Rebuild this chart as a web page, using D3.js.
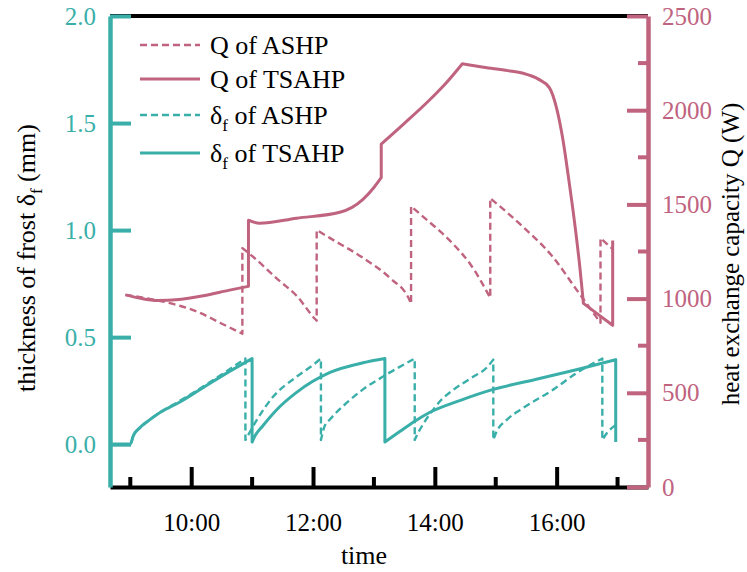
<!DOCTYPE html>
<html>
<head>
<meta charset="utf-8">
<script src="https://cdn.jsdelivr.net/npm/d3@7"></script>
<style>
  body { margin: 0; background: #fff; }
  svg { display: block; }
  svg text { font-family: "Liberation Serif", "Times New Roman", serif; }
</style>
</head>
<body>
<svg id="chart" width="747" height="572"></svg>
<script>
// Time is in decimal hours.
const timeDomain = [8 + 40 / 60, 17.5];
const majorHours = [10, 12, 14, 16];
const minorHours = [9, 11, 13, 15, 17];
const hourLabels = ["10:00", "12:00", "14:00", "16:00"];

const frostDomain = [-0.2, 2.0];
const frostTicks = [0, 0.5, 1.0, 1.5, 2.0];
const qDomain = [0, 2500];
const qMajorTicks = [0, 500, 1000, 1500, 2000, 2500];
const qMinorTicks = [250, 750, 1250, 1750, 2250];

// Heat exchange capacity Q (W). A repeated time starts a new piece:
// with a new value it is a defrost jump, with the same value a corner.
const qAshpTime = [8.92, 9.31, 9.81, 10.14, 10.47, 10.84, 10.84, 10.96, 11.45, 11.73, 12.03, 12.06,
  12.06, 12.28, 12.82, 13.26, 13.59, 13.61, 13.61, 13.76, 14.30, 14.58, 14.91, 14.91, 15.40, 15.95,
  16.34, 16.72, 16.72, 16.92];
const qAshpValue = [1020, 999, 962, 925, 872, 814, 1268, 1237, 1094, 1015, 893, 883,
  1364, 1321, 1216, 1110, 988, 972, 1490, 1448, 1290, 1184, 1004, 1533, 1395, 1216,
  1041, 872, 1321, 1263];

const qTsahpTime = [8.92, 9.15, 9.45, 9.8, 10.2, 10.63, 10.94, 10.94, 11.12, 11.73, 12.44, 12.82,
  13.0, 13.12, 13.12, 13.5, 13.9, 14.2, 14.45, 14.45, 14.8, 15.2, 15.45, 15.7, 15.88, 16.0, 16.1,
  16.2, 16.3, 16.38, 16.44, 16.44, 16.68, 16.92, 16.92];
const qTsahpValue = [1020, 1003, 990, 995, 1015, 1045, 1065, 1416, 1400, 1427, 1458, 1527,
  1590, 1642, 1820, 1930, 2050, 2150, 2246, 2246, 2228, 2210, 2196, 2165, 2120, 2010, 1850,
  1630, 1390, 1170, 975, 975, 916, 858, 1308];

// Frost thickness δf (mm)
const frostAshpTime = [8.667, 9.0, 9.05, 9.15, 9.3, 9.5, 9.8, 10.2, 10.63, 10.89, 10.89, 10.93,
  11.07, 11.34, 11.73, 12.0, 12.13, 12.13, 12.19, 12.28, 12.56, 12.82, 13.15, 13.67, 13.67, 13.72,
  13.8, 13.97, 14.1, 14.30, 14.6, 14.86, 14.96, 14.96, 15.0, 15.19, 15.4, 15.95, 16.34, 16.75,
  16.75, 16.82, 16.97];
const frostAshpValue = [0, 0, 0.04, 0.075, 0.11, 0.15, 0.2, 0.27, 0.35, 0.40, 0.02, 0.04,
  0.11, 0.22, 0.315, 0.37, 0.40, 0.02, 0.084, 0.116, 0.195, 0.256, 0.316, 0.40, 0.02, 0.05,
  0.09, 0.16, 0.205, 0.253, 0.31, 0.36, 0.395, 0.02, 0.05, 0.116, 0.16, 0.256, 0.335, 0.40,
  0.02, 0.05, 0.09];

const frostTsahpTime = [8.667, 9.0, 9.05, 9.15, 9.3, 9.5, 9.8, 10.2, 10.63, 11.0, 11.0, 11.05,
  11.17, 11.4, 11.73, 12.28, 12.82, 13.18, 13.18, 13.43, 13.67, 13.92, 14.42, 14.96, 15.65,
  16.34, 16.97, 16.97];
const frostTsahpValue = [0, 0, 0.04, 0.075, 0.11, 0.15, 0.195, 0.265, 0.34, 0.40, 0.01, 0.04,
  0.084, 0.16, 0.242, 0.335, 0.38, 0.40, 0.01, 0.06, 0.107, 0.149, 0.205, 0.256, 0.302,
  0.349, 0.395, 0.01];

const legendLabels = [
  { main: "Q", sub: "", rest: " of ASHP" },
  { main: "Q", sub: "", rest: " of TSAHP" },
  { main: "δ", sub: "f", rest: " of ASHP" },
  { main: "δ", sub: "f", rest: " of TSAHP" }
];

const PINK = "#c0637f";
const TEAL = "#3aafa9";
const FONT = "Liberation Serif, Times New Roman, serif";

const svg = d3.select("#chart");
const plotLeft = 110, plotRight = 648, plotTop = 16, plotBottom = 487;

const x = d3.scaleLinear().domain(timeDomain).range([plotLeft, plotRight]);
const yF = d3.scaleLinear().domain(frostDomain).range([plotBottom, plotTop]);
const yQ = d3.scaleLinear().domain(qDomain).range([plotBottom, plotTop]);

// Draw a series as smooth pieces joined at repeated times.
function seriesPath(times, values, yScale) {
  const segs = [];
  let cur = [];
  times.forEach((t, i) => {
    if (i > 0 && t === times[i - 1]) { segs.push(cur); cur = []; }
    cur.push([t, values[i]]);
  });
  segs.push(cur);
  const line = d3.line().x(d => x(d[0])).y(d => yScale(d[1])).curve(d3.curveMonotoneX);
  return segs.map((s, i) => {
    const p = s.length > 1 ? line(s) : `M${x(s[0][0])},${yScale(s[0][1])}`;
    return i === 0 ? p : "L" + p.slice(1);
  }).join("");
}

const series = [
  { t: qAshpTime, v: qAshpValue, y: yQ, color: PINK, dash: "7,4", w: 2.4 },
  { t: qTsahpTime, v: qTsahpValue, y: yQ, color: PINK, dash: null, w: 3 },
  { t: frostAshpTime, v: frostAshpValue, y: yF, color: TEAL, dash: "7,4", w: 2.4 },
  { t: frostTsahpTime, v: frostTsahpValue, y: yF, color: TEAL, dash: null, w: 3 }
];

svg.append("g").selectAll("path").data(series).join("path")
  .attr("d", s => seriesPath(s.t, s.v, s.y))
  .attr("fill", "none")
  .attr("stroke", s => s.color)
  .attr("stroke-width", s => s.w)
  .attr("stroke-dasharray", s => s.dash)
  .attr("stroke-linejoin", "round");

// Top frame line
svg.append("line").attr("x1", plotLeft).attr("x2", plotRight).attr("y1", plotTop).attr("y2", plotTop)
  .attr("stroke", "#000").attr("stroke-width", 4);

// Bottom time axis
const xAxis = svg.append("g").attr("transform", `translate(0,${plotBottom})`)
  .call(d3.axisBottom(x).tickValues(majorHours).tickFormat((d, i) => hourLabels[i])
    .tickSizeInner(-20).tickSizeOuter(0).tickPadding(26));
xAxis.attr("font-family", FONT);
xAxis.select(".domain").attr("stroke", "#000").attr("stroke-width", 4);
xAxis.selectAll(".tick line").attr("stroke", "#000").attr("stroke-width", 4);
xAxis.selectAll("text").attr("font-size", 25).attr("fill", "#000");
xAxis.selectAll(".minor").data(minorHours).join("line").attr("class", "minor")
  .attr("x1", d => x(d)).attr("x2", d => x(d)).attr("y1", 0).attr("y2", -10)
  .attr("stroke", "#000").attr("stroke-width", 4);

// Left frost axis
const fAxis = svg.append("g").attr("transform", `translate(${plotLeft},0)`)
  .call(d3.axisLeft(yF).tickValues(frostTicks).tickFormat(d3.format(".1f"))
    .tickSizeInner(-21).tickSizeOuter(0).tickPadding(14));
fAxis.attr("font-family", FONT);
fAxis.select(".domain").attr("stroke", TEAL).attr("stroke-width", 4.5);
fAxis.selectAll(".tick line").attr("stroke", TEAL).attr("stroke-width", 4);
fAxis.selectAll("text").attr("font-size", 25).attr("fill", TEAL);

// Right Q axis
const qAxis = svg.append("g").attr("transform", `translate(${plotRight},0)`)
  .call(d3.axisRight(yQ).tickValues(qMajorTicks).tickFormat(d3.format("d"))
    .tickSizeInner(-21).tickSizeOuter(0).tickPadding(14));
qAxis.attr("font-family", FONT);
qAxis.select(".domain").attr("stroke", PINK).attr("stroke-width", 4.5);
qAxis.selectAll(".tick line").attr("stroke", PINK).attr("stroke-width", 4);
qAxis.selectAll("text").attr("font-size", 25).attr("fill", PINK);
qAxis.selectAll(".minor").data(qMinorTicks).join("line").attr("class", "minor")
  .attr("x1", 0).attr("x2", -10).attr("y1", d => yQ(d)).attr("y2", d => yQ(d))
  .attr("stroke", PINK).attr("stroke-width", 4);

// Axis titles
svg.append("text").attr("x", 364).attr("y", 564).attr("text-anchor", "middle")
  .attr("font-size", 26).text("time");

const lt = svg.append("text").attr("transform", "translate(35,258) rotate(-90)")
  .attr("text-anchor", "middle").attr("font-size", 26);
lt.append("tspan").text("thickness of frost δ");
lt.append("tspan").attr("font-size", 17).attr("dy", 7).text("f");
lt.append("tspan").attr("dy", -7).text(" (mm)");

svg.append("text").attr("transform", "translate(739,254) rotate(-90)")
  .attr("text-anchor", "middle").attr("font-size", 25).text("heat exchange capacity Q (W)");

// Legend
const legendRows = [45, 79, 115, 153];
const lg = svg.append("g");
legendLabels.forEach((d, i) => {
  const s = series[i];
  const yy = legendRows[i];
  lg.append("line").attr("x1", 140).attr("x2", 200).attr("y1", yy).attr("y2", yy)
    .attr("stroke", s.color).attr("stroke-width", s.w).attr("stroke-dasharray", s.dash);
  const t = lg.append("text").attr("x", 210).attr("y", yy + 9).attr("font-size", 26);
  t.append("tspan").text(d.main);
  if (d.sub) {
    t.append("tspan").attr("font-size", 17).attr("dy", 7).text(d.sub);
    t.append("tspan").attr("dy", -7).text(d.rest);
  } else {
    t.append("tspan").text(d.rest);
  }
});
</script>
</body>
</html>
